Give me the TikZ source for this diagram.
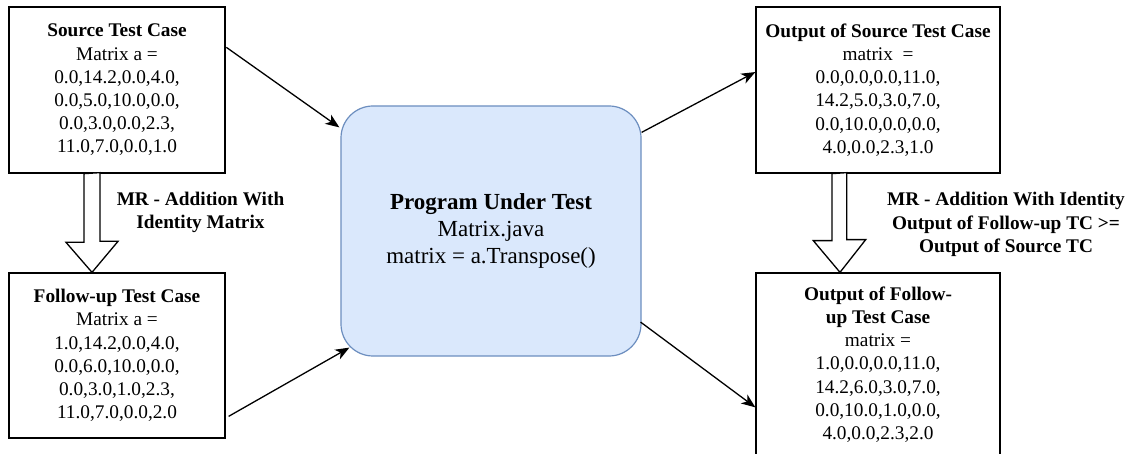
\documentclass[tikz,border=0pt]{standalone}
\usepackage{fontspec}
\setmainfont{Liberation Serif}
\usetikzlibrary{arrows.meta,calc}

\definecolor{putfill}{HTML}{DAE8FC}
\definecolor{putline}{HTML}{6C8EBF}

\tikzset{
  casebox/.style={draw=black, line width=1.3pt, fill=white, inner sep=0pt,
    align=center, font=\fontsize{19.3}{23.2}\selectfont},
  progbox/.style={draw=putline, fill=putfill, line width=1.2pt, rounded corners=32pt,
    inner sep=0pt, align=center, font=\fontsize{23}{27}\selectfont,
    minimum width=300pt, minimum height=250pt},
  flow/.style={draw=black, line width=1.3pt,
    -{Stealth[length=14pt,width=11pt,inset=4pt]}},
  blockarrow/.style={draw=black, fill=white, line width=1.3pt, line join=miter},
  mrlabel/.style={align=center, inner sep=0pt,
    font=\bfseries\fontsize{19.3}{23.2}\selectfont}
}

\begin{document}
\begin{tikzpicture}[x=1pt,y=-1pt]
\useasboundingbox (0,0) rectangle (1138,454);

% test cases on the left
\node[casebox, minimum width=216pt, minimum height=166pt] (src) at (117,90)
  {\textbf{Source Test Case}\\Matrix a =\\0.0,14.2,0.0,4.0,\\0.0,5.0,10.0,0.0,\\0.0,3.0,0.0,2.3,\\11.0,7.0,0.0,1.0};
\node[casebox, minimum width=216pt, minimum height=165pt] (fup) at (117,355.5)
  {\textbf{Follow-up Test Case}\\Matrix a =\\1.0,14.2,0.0,4.0,\\0.0,6.0,10.0,0.0,\\0.0,3.0,1.0,2.3,\\11.0,7.0,0.0,2.0};

% program in the middle
\node[progbox] (put) at (491,231)
  {\textbf{Program Under Test}\\Matrix.java\\matrix = a.Transpose()};

% outputs on the right
\node[casebox, minimum width=244pt, minimum height=166pt] (ost) at (878,90)
  {\textbf{Output of Source Test Case}\\matrix\ \ =\\0.0,0.0,0.0,11.0,\\14.2,5.0,3.0,7.0,\\0.0,10.0,0.0,0.0,\\4.0,0.0,2.3,1.0};
\node[casebox, minimum width=244pt, minimum height=183pt] (oft) at (878,364.5)
  {\textbf{Output of Follow-}\\\textbf{up Test Case}\\matrix =\\1.0,0.0,0.0,11.0,\\14.2,6.0,3.0,7.0,\\0.0,10.0,1.0,0.0,\\4.0,0.0,2.3,2.0};

% metamorphic relation arrows
\draw[blockarrow] (src.south) ++(-33,0) -- ++(0,68.7) -- ++(-18,0) -- ($(fup.north)+(-25,0)$)
  -- ++(26,-31) -- ++(-18,0) -- ++(0,-68.7) -- cycle;
\draw[blockarrow] (ost.south) ++(-46,0) -- ++(0,67) -- ++(-18.7,0) -- ($(oft.north)+(-38,0)$)
  -- ++(25.7,-32.7) -- ++(-19,0) -- ++(0,-67) -- cycle;

\node[mrlabel] (mrl) at (200.5,212.5) {MR - Addition With\\Identity Matrix};
\node[mrlabel] (mrr) at (1006,224.5) {MR - Addition With Identity\\Output of Follow-up TC >=\\Output of Source TC};

% data flow
\draw[flow] ($(src.north east)+(0.7,41)$) -- ($(put.north west)+(-1,22)$);
\draw[flow] ($(fup.north east)+(3,144)$) -- ($(put.south west)+(9,-9)$);
\draw[flow] ($(put.north east)+(0,27)$) -- ($(ost.north west)+(0,65.7)$);
\draw[flow] ($(put.north east)+(-1,216.7)$) -- ($(oft.north west)+(0,135)$);
\end{tikzpicture}
\end{document}
